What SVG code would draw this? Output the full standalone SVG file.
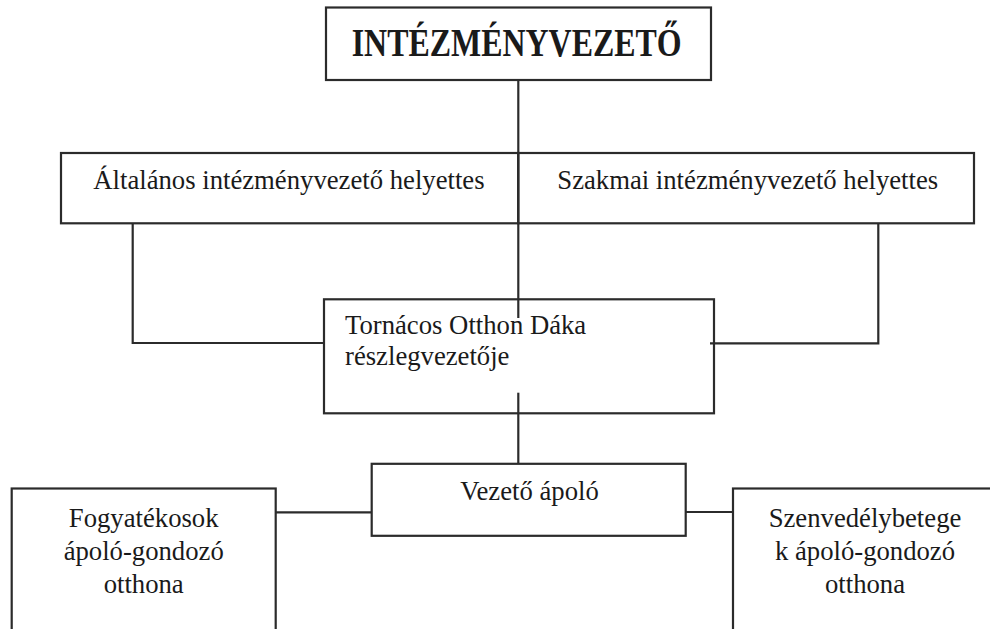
<svg xmlns="http://www.w3.org/2000/svg" width="990" height="629" viewBox="0 0 990 629">
<style>
.box{fill:#fff;stroke:#2b2b2b;stroke-width:2.2}
.con{fill:none;stroke:#2b2b2b;stroke-width:2.2}
.t{font-family:'Liberation Serif',Tinos,'Times New Roman','DejaVu Serif',serif;font-size:26.7px;fill:#1a1a1a}
.c{text-anchor:middle}
.b{font-weight:bold;font-size:41px}
</style>
<rect width="990" height="629" fill="#fff"/>
<g id="n-intezmenyvezeto">
<rect class="box" x="326" y="7.5" width="385" height="72.5"/>
<text class="t b" x="351.7" y="56" textLength="330" lengthAdjust="spacingAndGlyphs">INTÉZMÉNYVEZETŐ</text>
</g>
<g id="n-altalanos">
<rect class="box" x="61" y="153" width="457.3" height="70.3"/>
<text class="t" x="93.3" y="189">Általános intézményvezető helyettes</text>
</g>
<g id="n-szakmai">
<rect class="box" x="518.3" y="153" width="455.7" height="70.3"/>
<text class="t" x="557.3" y="189">Szakmai intézményvezető helyettes</text>
</g>
<g id="n-tornacos">
<rect class="box" x="324" y="299.3" width="390" height="114"/>
<text class="t" x="345" y="334.3">Tornácos Otthon Dáka</text>
<text class="t" x="345" y="365.3">részlegvezetője</text>
</g>
<g id="n-vezeto-apolo">
<rect class="box" x="371.7" y="463.8" width="314" height="72"/>
<text class="t c" x="529.5" y="500">Vezető ápoló</text>
</g>
<g id="n-fogyatekosok">
<rect class="box" x="11.7" y="488.5" width="264" height="160"/>
<text class="t c" x="143.7" y="526.5">Fogyatékosok</text>
<text class="t c" x="143.7" y="559.5">ápoló-gondozó</text>
<text class="t c" x="143.7" y="593">otthona</text>
</g>
<g id="n-szenvedelybetegek">
<rect class="box" x="733" y="488.5" width="264" height="160"/>
<text class="t c" x="865" y="526.5">Szenvedélybetege</text>
<text class="t c" x="865" y="559.5">k ápoló-gondozó</text>
<text class="t c" x="865" y="593">otthona</text>
</g>
<g id="connectors">
<path class="con" d="M518.3,80 V318"/>
<path class="con" d="M132.7,223.3 V343 H324"/>
<path class="con" d="M878.3,223.3 V343.3 H710"/>
<path class="con" d="M518.3,392.7 V463.8"/>
<path class="con" d="M275.7,512.3 H371.7"/>
<path class="con" d="M685.7,512 H733"/>
</g>
</svg>
